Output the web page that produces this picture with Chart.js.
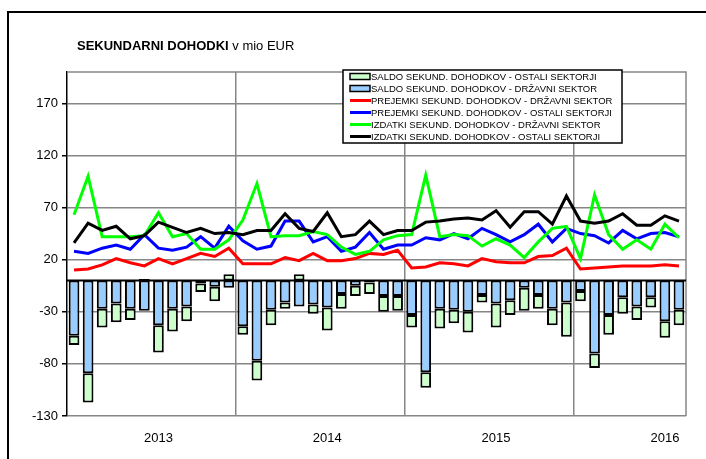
<!DOCTYPE html>
<html>
<head>
<meta charset="utf-8">
<script src="https://cdn.jsdelivr.net/npm/chart.js@4.4.1/dist/chart.umd.min.js"></script>
<style>
html, body { margin: 0; padding: 0; background: #fff; }
#wrap { width: 706px; height: 459px; }
</style>
</head>
<body>
<div id="wrap"><canvas id="chart" width="706" height="459"></canvas></div>
<script>
// leta in število mesecev v vsakem letu
const years = ["2013", "2014", "2015", "2016"];
const monthsInYear = [12, 12, 12, 8];
const yTicks = [-130, -80, -30, 20, 70, 120, 170];

const legendLabels = [
	"SALDO SEKUND. DOHODKOV - OSTALI SEKTORJI",
	"SALDO SEKUND. DOHODKOV - DRŽAVNI SEKTOR",
	"PREJEMKI SEKUND. DOHODKOV - DRŽAVNI SEKTOR",
	"PREJEMKI SEKUND. DOHODKOV - OSTALI SEKTORJI",
	"IZDATKI SEKUND. DOHODKOV - DRŽAVNI SEKTOR",
	"IZDATKI SEKUND. DOHODKOV - OSTALI SEKTORJI"
];

// mesečni podatki, v mio EUR
const saldoOstali = [
	-9, -28, -18, -18, -11, 1.5, -26, -22, -14, -8, -14, 6,
	-8, -19, -15, -6, 6, -9, -22, -14, -10, -11, -15, -14,
	-12, -15, -19, -13, -20, -7, -23, -14, -22, -13, -16, -33,
	-10, -14, -19, -16, -13, -10, -16, -15
];
const saldoDrzavni = [
	-53, -89, -27, -22, -27, -29, -43, -27, -25, -3, -6, -7,
	-44, -77, -28, -21, -25, -23, -26, -13, -5, -2, -15, -15,
	-33, -88, -27, -28, -30, -14, -22, -19, -7, -14, -27, -21,
	-10, -70, -33, -16, -25, -16, -39, -28
];
const prejemkiDrzavni = [
	10, 11, 15, 21, 17, 14, 21, 16, 21, 26, 23, 31,
	16, 16, 16, 22, 19, 26, 19, 19, 21, 26, 25, 29,
	12, 13, 17, 16, 14, 21, 18, 17, 17, 23, 24, 31,
	11, 12, 13, 14, 14, 14, 15, 14
];
const prejemkiOstali = [
	28, 26, 31, 34, 30, 44, 31, 29, 32, 42, 31, 52,
	38, 30, 33, 57, 57, 37, 42, 28, 32, 46, 30, 34,
	34, 41, 39, 45, 40, 50, 44, 37, 44, 54, 37, 50,
	45, 43, 36, 48, 40, 45, 46, 42
];
const izdatkiDrzavni = [
	63, 100, 42, 42, 42, 43, 65, 42, 45, 30, 30, 39,
	58, 93, 42, 43, 43, 47, 44, 32, 25, 28, 39, 43,
	44, 101, 42, 44, 43, 33, 40, 34, 22, 37, 50, 52,
	21, 82, 44, 30, 39, 30, 54, 41
];
const izdatkiOstali = [
	36, 55, 48, 52, 40, 43, 56, 51, 46, 50, 45, 46,
	44, 48, 48, 64, 50, 47, 65, 42, 44, 57, 44, 48,
	48, 56, 57, 59, 60, 58, 67, 51, 66, 66, 54, 81,
	57, 55, 57, 64, 53, 53, 62, 57
];

// oznaka leta stoji pod julijem
const labels = [];
years.forEach((y, i) => {
	for (let m = 0; m < monthsInYear[i]; m++) labels.push(m === 6 ? y : "");
});

const FONT = "'Liberation Sans', Arial, sans-serif";
const GRID = "#868686";

function lineSet(label, data, color, order) {
	return {
		type: "line", label: label, data: data,
		borderColor: color, backgroundColor: color,
		borderWidth: 3, pointRadius: 0, tension: 0, fill: false,
		stack: "l" + order, order: order
	};
}

const decor = {
	id: "decor",
	beforeDraw(chart) {
		const c = chart.ctx;
		c.save();
		c.fillStyle = "#fff";
		c.fillRect(0, 0, chart.width, chart.height);
		c.restore();
	},
	beforeDatasetsDraw(chart) {
		const c = chart.ctx, a = chart.chartArea;
		c.save();
		c.strokeStyle = GRID;
		c.lineWidth = 1.5;
		c.beginPath();
		c.moveTo(a.left, a.top);
		c.lineTo(a.right, a.top);
		c.lineTo(a.right, a.bottom);
		c.stroke();
		c.restore();
	},
	afterDatasetsDraw(chart) {
		const c = chart.ctx, a = chart.chartArea;
		const y0 = chart.scales.y.getPixelForValue(0);
		c.save();
		c.strokeStyle = "#000";
		c.lineWidth = 2;
		c.beginPath();
		c.moveTo(a.left, y0);
		c.lineTo(a.right, y0);
		c.stroke();
		c.restore();
	},
	afterDraw(chart) {
		const c = chart.ctx;
		c.save();
		// okvir grafikona
		c.strokeStyle = "#000";
		c.lineWidth = 2;
		c.beginPath();
		c.moveTo(8, chart.height + 5);
		c.lineTo(8, 12);
		c.lineTo(chart.width + 5, 12);
		c.stroke();

		// naslov
		c.fillStyle = "#000";
		c.textBaseline = "alphabetic";
		c.font = "bold 13px " + FONT;
		const t1 = "SEKUNDARNI DOHODKI";
		c.fillText(t1, 77, 50);
		const w1 = c.measureText(t1 + " ").width;
		c.font = "13px " + FONT;
		c.fillText("v mio EUR", 77 + w1, 50);

		// legenda
		const bx = 343, by = 70, bw = 279, bh = 73;
		c.fillStyle = "#fff";
		c.fillRect(bx, by, bw, bh);
		c.strokeStyle = "#000";
		c.lineWidth = 1.5;
		c.strokeRect(bx, by, bw, bh);
		const sets = chart.data.datasets;
		const legendOrder = [1, 0, 2, 3, 4, 5];
		c.font = "9.5px " + FONT;
		c.textBaseline = "middle";
		legendOrder.forEach((di, r) => {
			const ds = sets[di];
			const cy = by + 6.5 + r * 12;
			if (ds.type === "bar") {
				c.fillStyle = ds.backgroundColor;
				c.fillRect(350, cy - 3, 20, 6);
				c.strokeStyle = "#000";
				c.lineWidth = 1.5;
				c.strokeRect(350, cy - 3, 20, 6);
			} else {
				c.strokeStyle = ds.borderColor;
				c.lineWidth = 3;
				c.beginPath();
				c.moveTo(350, cy);
				c.lineTo(371, cy);
				c.stroke();
			}
			c.fillStyle = "#000";
			c.fillText(ds.label, 371, cy + 0.5);
		});
		c.restore();
	}
};

new Chart(document.getElementById("chart"), {
	type: "bar",
	data: {
		labels: labels,
		datasets: [
			{
				type: "bar", label: legendLabels[1], data: saldoDrzavni,
				backgroundColor: "#99ccff", borderColor: "#000", borderWidth: 2,
				borderSkipped: false, stack: "saldo", order: 10,
				barPercentage: 0.76, categoryPercentage: 1
			},
			{
				type: "bar", label: legendLabels[0], data: saldoOstali,
				backgroundColor: "#ccffcc", borderColor: "#000", borderWidth: 2,
				borderSkipped: false, stack: "saldo", order: 10,
				barPercentage: 0.76, categoryPercentage: 1
			},
			lineSet(legendLabels[2], prejemkiDrzavni, "#ff0000", 4),
			lineSet(legendLabels[3], prejemkiOstali, "#0000ff", 3),
			lineSet(legendLabels[4], izdatkiDrzavni, "#00ff00", 2),
			lineSet(legendLabels[5], izdatkiOstali, "#000000", 1)
		]
	},
	options: {
		responsive: false,
		animation: false,
		layout: { padding: { left: 0, right: 20, top: 72, bottom: 0 } },
		plugins: { legend: { display: false }, tooltip: { enabled: false } },
		scales: {
			x: {
				stacked: true,
				grid: {
					offset: true,
					drawTicks: false,
					lineWidth: 1.5,
					color: (ctx) => (ctx.index > 0 && ctx.index % 12 === 0) ? GRID : "rgba(0,0,0,0)"
				},
				border: { display: false },
				ticks: {
					autoSkip: false, maxRotation: 0, minRotation: 0, padding: 15,
					color: "#000", font: { family: FONT, size: 13 }
				},
				afterFit: (s) => { s.height = 43; }
			},
			y: {
				stacked: true,
				min: -130,
				max: 200,
				afterBuildTicks: (s) => { s.ticks = yTicks.map((v) => ({ value: v })); },
				grid: { color: GRID, lineWidth: 1.5, tickColor: "#000", tickLength: 5 },
				border: { display: true, color: "#000", width: 1.5 },
				ticks: { color: "#000", padding: 4, font: { family: FONT, size: 13 } },
				afterFit: (s) => { s.width = 67; }
			}
		}
	},
	plugins: [decor]
});
</script>
</body>
</html>
